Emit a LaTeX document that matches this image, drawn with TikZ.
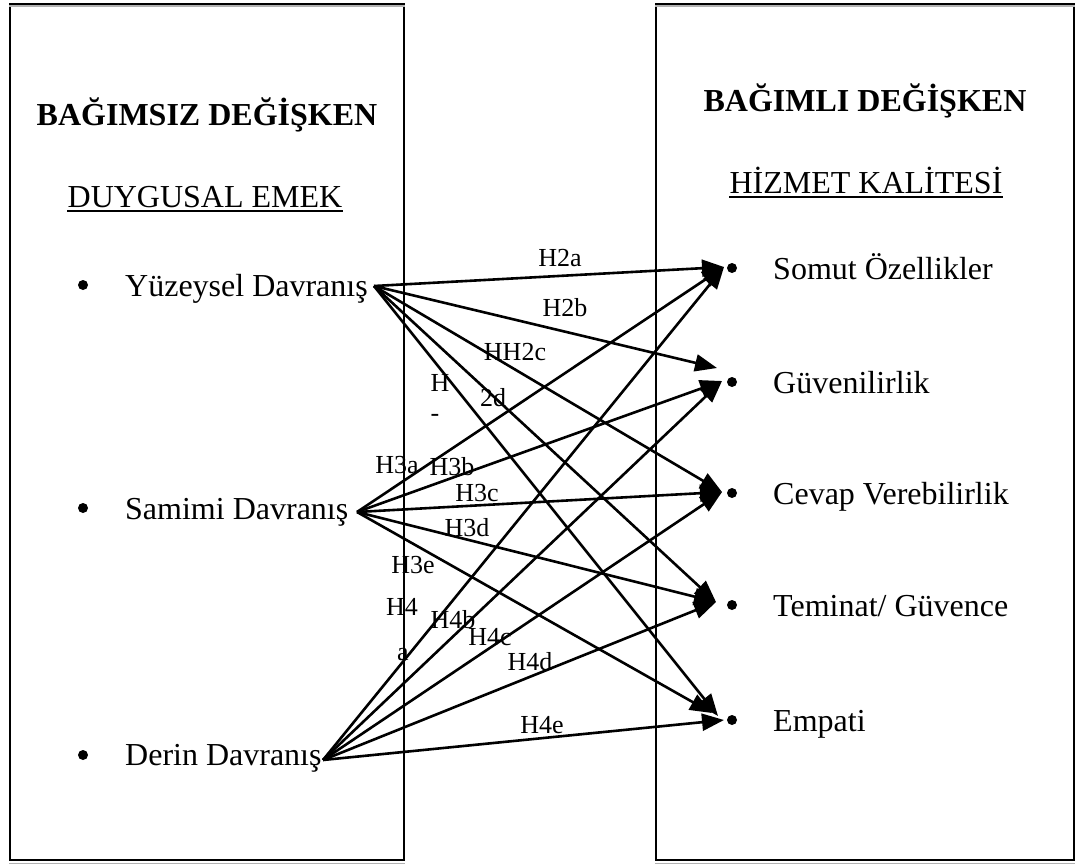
\documentclass[tikz,border=0pt]{standalone}
\usepackage{fontspec}
\setmainfont{Liberation Serif}
\usetikzlibrary{arrows.meta}
\begin{document}
\begin{tikzpicture}[x=1pt,y=-1pt,
  box/.style={draw,line width=2.2pt,inner sep=0pt},
  shade/.style={draw=black!30,line width=1.5pt},
  title/.style={font=\fontsize{32}{38}\selectfont\bfseries,inner sep=0pt,anchor=base},
  sub/.style={font=\fontsize{32}{38}\selectfont,inner sep=0pt,anchor=base},
  item/.style={font=\fontsize{32}{38}\selectfont,inner sep=0pt,anchor=base west},
  dot/.style={circle,fill=black,inner sep=0pt,minimum size=10pt},
  lab/.style={font=\fontsize{26}{30}\selectfont,inner sep=0pt},
  rel/.style={line width=2.6pt,-{Triangle[length=22pt,width=17pt]}},
  uline/.style={line width=2.2pt}
]
\useasboundingbox (0,0) rectangle (1078,864);
% boxes
\node[box,minimum width=394pt,minimum height=856pt] (L) at (207,432) {};
\node[box,minimum width=418pt,minimum height=856pt] (R) at (865,432) {};
\draw[shade] ([yshift=-3pt]L.north west) -- ([yshift=-3pt]L.north east);
\draw[shade] ([yshift=-3pt]L.south west) -- ([yshift=-3pt]L.south east);
\draw[shade] ([yshift=-3pt]R.north west) -- ([yshift=-3pt]R.north east);
\draw[shade] ([yshift=-3pt]R.south west) -- ([yshift=-3pt]R.south east);
% titles
\node[title] (T1) at (207,125) {BAĞIMSIZ DEĞİŞKEN};
\node[sub] (U1) at (205,207) {DUYGUSAL EMEK};
\draw[uline] ([yshift=-4pt]U1.base west) -- ([yshift=-4pt]U1.base east);
\node[title] (T2) at (865,112) {BAĞIMLI DEĞİŞKEN};
\node[sub] (U2) at (866,193) {HİZMET KALİTESİ};
\draw[uline] ([yshift=-4pt]U2.base west) -- ([yshift=-4pt]U2.base east);
% left items
\node[dot] (bY) at (83,285) {};
\node[item] (tY) at (125,296) {Yüzeysel Davranış};
\node[dot] (bS) at (83,508) {};
\node[item] (tS) at (125,519) {Samimi Davranış};
\node[dot] (bD) at (83,755) {};
\node[item] (tD) at (125,765) {Derin Davranış};
% right items
\node[dot] (r1) at (732,268) {};
\node[item] (q1) at (773,279) {Somut Özellikler};
\node[dot] (r2) at (732,382) {};
\node[item] (q2) at (773,393) {Güvenilirlik};
\node[dot] (r3) at (732,493) {};
\node[item] (q3) at (773,504) {Cevap Verebilirlik};
\node[dot] (r4) at (732,605) {};
\node[item] (q4) at (773,616) {Teminat/ Güvence};
\node[dot] (r5) at (732,720) {};
\node[item] (q5) at (773,731) {Empati};
% sources
\coordinate (Y) at (374,286);
\coordinate (S) at (357,512);
\coordinate (D) at (323,760);
% targets
\coordinate (t1) at (724,267);
\coordinate (t2b) at (717,368);
\coordinate (t2) at (722,381);
\coordinate (t3) at (722,492);
\coordinate (t4) at (716,602);
\coordinate (t5) at (724,720);
\coordinate (t5y) at (718,716);
\coordinate (t5s) at (712,713);
% labels
\node[lab] (l2a) at (560,258) {H2a};
\node[lab] (l2b) at (565,308) {H2b};
\node[lab] (l2c) at (515,352) {HH2c};
\node[lab] (l2dH) at (440,383) {H};
\node[lab] (l2d) at (493,398) {2d};
\node[lab] (l2dm) at (435,418) {-};
\node[lab] (l3a) at (397,465) {H3a};
\node[lab] (l3b) at (452,467) {H3b};
\node[lab] (l3c) at (477,493) {H3c};
\node[lab] (l3d) at (467,528) {H3d};
\node[lab] (l3e) at (413,565) {H3e};
\node[lab] (l4a) at (402,607) {H4};
\node[lab] (l4aa) at (403,655) {a};
\node[lab] (l4b) at (453,620) {H4b};
\node[lab] (l4c) at (490,637) {H4c};
\node[lab] (l4d) at (530,662) {H4d};
\node[lab] (l4e) at (542,725) {H4e};
% arrows
\draw[rel] (Y) -- (t1);
\draw[rel] (Y) -- (t2b);
\draw[rel] (Y) -- (t3);
\draw[rel] (Y) -- (t4);
\draw[rel] (Y) -- (t5y);
\draw[rel] (S) -- (t1);
\draw[rel] (S) -- (t2);
\draw[rel] (S) -- (t3);
\draw[rel] (S) -- (t4);
\draw[rel] (S) -- (t5s);
\draw[rel] (D) -- (t1);
\draw[rel] (D) -- (t2);
\draw[rel] (D) -- (t3);
\draw[rel] (D) -- (t4);
\draw[rel] (D) -- (t5);
\end{tikzpicture}
\end{document}
